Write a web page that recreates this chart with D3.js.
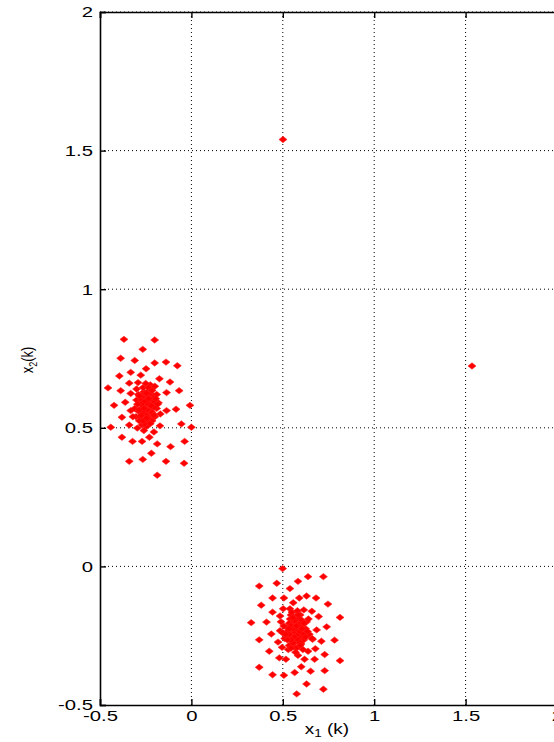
<!DOCTYPE html>
<html><head><meta charset="utf-8">
<script src="https://cdn.jsdelivr.net/npm/d3@7"></script>
<style>body{margin:0;background:#fff}svg{display:block}text{font-family:"Liberation Sans",Arial,sans-serif}</style>
</head><body><svg id="c" width="554" height="742"></svg>
<script>
const xTicks = [-0.5, 0, 0.5, 1, 1.5, 2];
const yTicks = [-0.5, 0, 0.5, 1, 1.5, 2];
const xTickLabels = ["-0.5", "0", "0.5", "1", "1.5", "2"];
const yTickLabels = ["-0.5", "0", "0.5", "1", "1.5", "2"];
const xLabel = "x", xSub = "1";
const yLabel = "x", ySub = "2";

// cluster 1 scattered points
const cluster1Outer = [[-0.369,0.819],[-0.201,0.817],[-0.266,0.783],[-0.387,0.751],[-0.310,0.743],[-0.201,0.734],[-0.139,0.737],[-0.077,0.724],[-0.248,0.713],[-0.332,0.700],[-0.277,0.690],[-0.394,0.687],[-0.175,0.677],[-0.117,0.665],[-0.340,0.661],[-0.292,0.663],[-0.456,0.644],[-0.387,0.634],[-0.332,0.624],[-0.067,0.634],[-0.136,0.627],[-0.008,0.581],[-0.423,0.581],[-0.362,0.592],[-0.084,0.567],[-0.136,0.562],[-0.332,0.562],[-0.380,0.538],[-0.303,0.540],[-0.441,0.502],[-0.340,0.510],[-0.055,0.514],[0.000,0.502],[-0.172,0.507],[-0.296,0.499],[-0.205,0.485],[-0.380,0.466],[-0.322,0.451],[-0.270,0.451],[-0.230,0.466],[-0.187,0.442],[-0.114,0.432],[-0.037,0.451],[-0.219,0.408],[-0.266,0.386],[-0.340,0.379],[-0.139,0.379],[-0.040,0.372],[-0.187,0.329]];
// cluster 1 dense core
const cluster1Core = [[-0.24,0.58],[-0.25,0.57],[-0.23,0.59],[-0.26,0.60],[-0.22,0.56],[-0.24,0.55],[-0.27,0.57],[-0.21,0.58],[-0.25,0.61],[-0.23,0.53],[-0.28,0.59],[-0.20,0.60],[-0.26,0.54],[-0.22,0.62],[-0.24,0.63],[-0.29,0.56],[-0.21,0.55],[-0.25,0.52],[-0.23,0.61],[-0.27,0.62],[-0.19,0.57],[-0.30,0.60],[-0.24,0.60],[-0.26,0.58],[-0.22,0.59],[-0.25,0.55],[-0.23,0.56],[-0.28,0.54],[-0.20,0.54],[-0.24,0.52],[-0.27,0.51],[-0.21,0.61],[-0.26,0.63],[-0.22,0.64],[-0.29,0.62],[-0.19,0.62],[-0.31,0.57],[-0.18,0.59],[-0.24,0.575],[-0.255,0.585],[-0.235,0.565],[-0.245,0.595],[-0.215,0.575],[-0.265,0.565],[-0.225,0.545],[-0.275,0.605],[-0.205,0.595],[-0.235,0.615],[-0.255,0.535],[-0.245,0.505],[-0.285,0.525],[-0.215,0.525],[-0.265,0.645],[-0.225,0.655],[-0.25,0.66],[-0.30,0.64],[-0.20,0.65],[-0.32,0.54],[-0.17,0.55],[-0.26,0.49],
  [-0.235,0.585],[-0.245,0.565],[-0.255,0.595],[-0.225,0.605],[-0.265,0.555],[-0.215,0.555],[-0.275,0.585],[-0.205,0.575],[-0.245,0.545],[-0.235,0.535],[-0.265,0.615],[-0.225,0.625],[-0.255,0.625],[-0.285,0.565],[-0.195,0.605],[-0.275,0.545],[-0.205,0.545],[-0.245,0.625],[-0.255,0.515],[-0.225,0.515],[-0.285,0.615],[-0.295,0.585],[-0.185,0.585],[-0.235,0.645],[-0.265,0.525],[-0.215,0.635],[-0.245,0.535],[-0.235,0.605],[-0.26,0.57],[-0.22,0.58]];
// cluster 2 scattered points
const cluster2Outer = [[0.499,-0.008],[0.638,-0.037],[0.722,-0.037],[0.583,-0.054],[0.467,-0.061],[0.371,-0.071],[0.539,-0.080],[0.444,-0.114],[0.506,-0.114],[0.630,-0.107],[0.590,-0.114],[0.682,-0.114],[0.557,-0.131],[0.382,-0.140],[0.747,-0.136],[0.502,-0.153],[0.539,-0.153],[0.444,-0.165],[0.659,-0.162],[0.615,-0.157],[0.696,-0.181],[0.813,-0.184],[0.327,-0.203],[0.411,-0.201],[0.485,-0.179],[0.740,-0.218],[0.685,-0.229],[0.437,-0.244],[0.485,-0.232],[0.371,-0.265],[0.474,-0.273],[0.711,-0.270],[0.783,-0.266],[0.663,-0.263],[0.496,-0.292],[0.678,-0.297],[0.426,-0.306],[0.638,-0.306],[0.729,-0.318],[0.481,-0.330],[0.517,-0.335],[0.583,-0.321],[0.619,-0.335],[0.674,-0.335],[0.813,-0.340],[0.601,-0.362],[0.371,-0.364],[0.652,-0.378],[0.729,-0.376],[0.444,-0.391],[0.506,-0.393],[0.565,-0.383],[0.630,-0.424],[0.722,-0.443],[0.576,-0.460]];
// cluster 2 dense core
const cluster2Core = [[0.57,-0.23],[0.56,-0.24],[0.58,-0.22],[0.55,-0.21],[0.59,-0.25],[0.57,-0.26],[0.54,-0.23],[0.60,-0.23],[0.56,-0.20],[0.58,-0.27],[0.53,-0.25],[0.61,-0.21],[0.55,-0.27],[0.59,-0.19],[0.57,-0.18],[0.52,-0.22],[0.62,-0.24],[0.56,-0.29],[0.60,-0.28],[0.54,-0.19],[0.63,-0.20],[0.51,-0.26],[0.58,-0.235],[0.565,-0.215],[0.575,-0.245],[0.545,-0.245],[0.595,-0.215],[0.555,-0.255],[0.585,-0.205],[0.535,-0.205],[0.605,-0.255],[0.525,-0.235],[0.615,-0.265],[0.565,-0.275],[0.545,-0.175],[0.595,-0.175],[0.625,-0.225],[0.505,-0.215],[0.575,-0.295],[0.535,-0.285],[0.645,-0.245],[0.64,-0.19],[0.50,-0.24],[0.55,-0.165],[0.61,-0.30],[0.57,-0.31],[0.49,-0.20],[0.66,-0.26],[0.58,-0.16],[0.53,-0.30],
  [0.565,-0.235],[0.575,-0.225],[0.585,-0.245],[0.555,-0.225],[0.595,-0.235],[0.545,-0.215],[0.605,-0.225],[0.575,-0.265],[0.565,-0.255],[0.585,-0.265],[0.555,-0.275],[0.595,-0.275],[0.575,-0.195],[0.565,-0.195],[0.585,-0.185],[0.545,-0.265],[0.615,-0.245],[0.535,-0.245],[0.625,-0.255],[0.525,-0.265],[0.605,-0.195],[0.555,-0.185],[0.635,-0.235],[0.515,-0.245],[0.595,-0.285],[0.545,-0.295],[0.585,-0.175],[0.615,-0.205],[0.535,-0.225],[0.575,-0.215]];
const outliers = [[0.501,1.54],[1.535,0.723]];

const svg = d3.select("#c");
const M = {left:100, top:12, right:557, bottom:705};
const x = d3.scaleLinear().domain([-0.5,2]).range([M.left, M.right]);
const y = d3.scaleLinear().domain([-0.5,2]).range([M.bottom, M.top]);
const FONT = "'Liberation Sans',Arial,sans-serif";
const STRETCH = 1.45;

// grid
const g = svg.append("g");
g.selectAll(".gx").data(xTicks.slice(1)).join("line")
  .attr("x1", d=>x(d)).attr("x2", d=>x(d)).attr("y1", M.top).attr("y2", M.bottom)
  .attr("stroke","#000").attr("stroke-width",1).attr("stroke-dasharray","1,3");
g.selectAll(".gy").data(yTicks.slice(1)).join("line")
  .attr("y1", d=>y(d)).attr("y2", d=>y(d)).attr("x1", M.left).attr("x2", M.right)
  .attr("stroke","#000").attr("stroke-width",1).attr("stroke-dasharray","1,3");

// points
const all = [].concat(cluster1Outer, cluster1Core, cluster2Outer, cluster2Core, outliers);
svg.append("g").selectAll("path").data(all).join("path")
  .attr("d", "M0,-3.2L4,0L0,3.2L-4,0Z")
  .attr("transform", d=>`translate(${x(d[0])},${y(d[1])})`)
  .attr("fill","#ff0000").attr("stroke","#ff2020").attr("stroke-width",0.6);

// axes
const tickSize = 6;
const xa = d3.axisBottom(x).tickValues(xTicks).tickFormat((d,i)=>xTickLabels[i]).tickSize(-tickSize).tickPadding(8);
const ya = d3.axisLeft(y).tickValues(yTicks).tickFormat((d,i)=>yTickLabels[i]).tickSize(-tickSize).tickPadding(8);
const xt = d3.axisTop(x).tickValues(xTicks).tickFormat("").tickSize(-tickSize);
const gx = svg.append("g").attr("transform",`translate(0,${M.bottom})`).call(xa);
const gy = svg.append("g").attr("transform",`translate(${M.left},0)`).call(ya);
const gt = svg.append("g").attr("transform",`translate(0,${M.top})`).call(xt);
[gx,gy,gt].forEach(a=>{
  a.select(".domain").attr("stroke","#000").attr("stroke-width",1.6);
  a.selectAll(".tick line").attr("stroke","#000").attr("stroke-width",1.4);
  a.selectAll("text").attr("font-size",14).attr("fill","#000").style("font-family",FONT);
});
gx.selectAll("text").attr("dy","0.6em").attr("transform",`scale(${STRETCH},1)`);
gy.selectAll("text").attr("dy","0.35em").attr("x",null).attr("transform",`translate(-7,0) scale(${STRETCH},1)`);

// axis labels
const xl = svg.append("text").attr("x",327).attr("y",734).attr("text-anchor","middle").attr("font-size",14);
xl.append("tspan").text(xLabel);
xl.append("tspan").attr("font-size",10).attr("dy",3).text(xSub);
xl.append("tspan").attr("dy",-3).text(" (k)");
xl.attr("transform",`translate(${327*(1-1.35)},0) scale(1.35,1)`);
const yl = svg.append("text").attr("transform","translate(33,360) rotate(-90) scale(1,1.3)").attr("text-anchor","middle").attr("font-size",13);
yl.append("tspan").text(yLabel);
yl.append("tspan").attr("font-size",9).attr("dy",3).text(ySub);
yl.append("tspan").attr("dy",-3).text("(k)");
</script></body></html>
